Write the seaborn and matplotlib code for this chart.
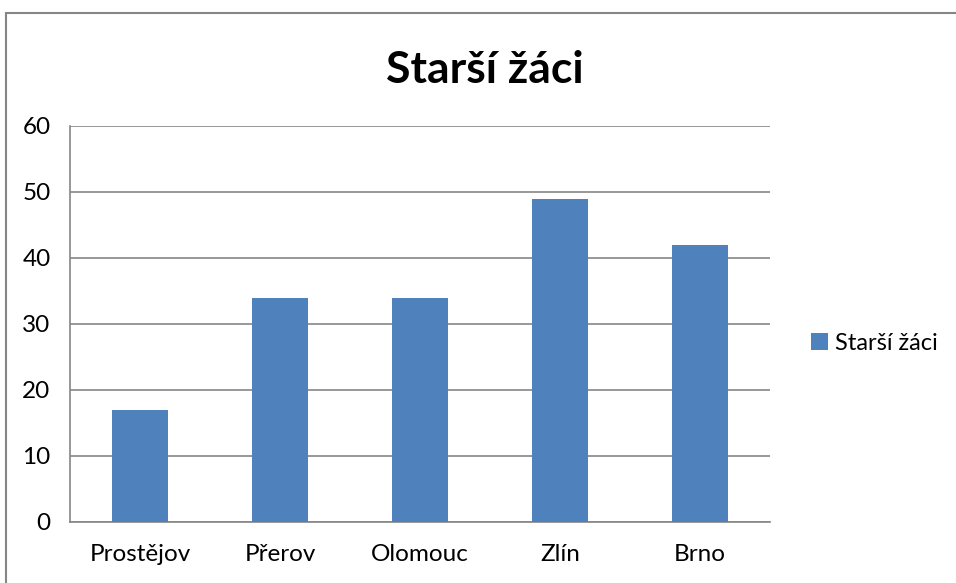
import seaborn as sns
import matplotlib.pyplot as plt
import matplotlib.ticker as mticker
import pandas as pd

# chart data
cities = ['Prostějov', 'Přerov', 'Olomouc', 'Zlín', 'Brno']
pupils = [17, 34, 34, 49, 42]
series_name = 'Starší žáci'

sns.set_style("white")
plt.rcParams['font.family'] = ['Lato', 'DejaVu Sans']
plt.rcParams['text.color'] = 'black'
plt.rcParams['xtick.color'] = 'black'
plt.rcParams['ytick.color'] = 'black'

data = pd.DataFrame({'city': cities, 'count': pupils})

fig = plt.figure(figsize=(9.56, 5.83), dpi=100)
ax = fig.add_axes([70 / 956, 61 / 583, 700 / 956, 396 / 583])

grey = '#868686'
sns.barplot(data=data, x='city', y='count', color='#4F81BD', width=0.4,
            saturation=1, ax=ax, label=series_name, zorder=3, linewidth=0)

ax.set_ylim(0, 60)
ax.set_xlim(-0.5, len(cities) - 0.5)
ax.yaxis.set_major_locator(mticker.MultipleLocator(10))
ax.grid(axis='y', color=grey, linewidth=1.2, zorder=0)
ax.set_axisbelow(True)

for s in ['top', 'right']:
    ax.spines[s].set_visible(False)
for s in ['left', 'bottom']:
    ax.spines[s].set_color(grey)
    ax.spines[s].set_linewidth(1.2)

ax.tick_params(axis='y', length=5, width=1.2, color=grey, labelsize=17.5, pad=9)
ax.tick_params(axis='x', which='major', length=0, labelsize=17.5, pad=16)
ax.xaxis.set_minor_locator(mticker.FixedLocator([i - 0.5 for i in range(len(cities) + 1)]))
ax.tick_params(axis='x', which='minor', length=6, width=1.2, color=grey)
ax.set_xlabel('')
ax.set_ylabel('')

fig.text(0.507, 1 - 70 / 583, series_name, ha='center', va='center',
         fontsize=32, fontweight='bold')

ax.legend(loc='center left', bbox_to_anchor=(790 / 956, 1 - 343 / 583),
          bbox_transform=fig.transFigure, frameon=False, fontsize=17,
          handlelength=0.7, handleheight=0.7, handletextpad=0.3)

# outer chart border (extends past the right and bottom edges)
fig.patches.append(plt.Rectangle((6 / 956, -0.1), 1.0, 1 - 13 / 583 + 0.1,
                                 transform=fig.transFigure, fill=False,
                                 edgecolor=grey, linewidth=1.5))

plt.savefig('out.png')
plt.close()
